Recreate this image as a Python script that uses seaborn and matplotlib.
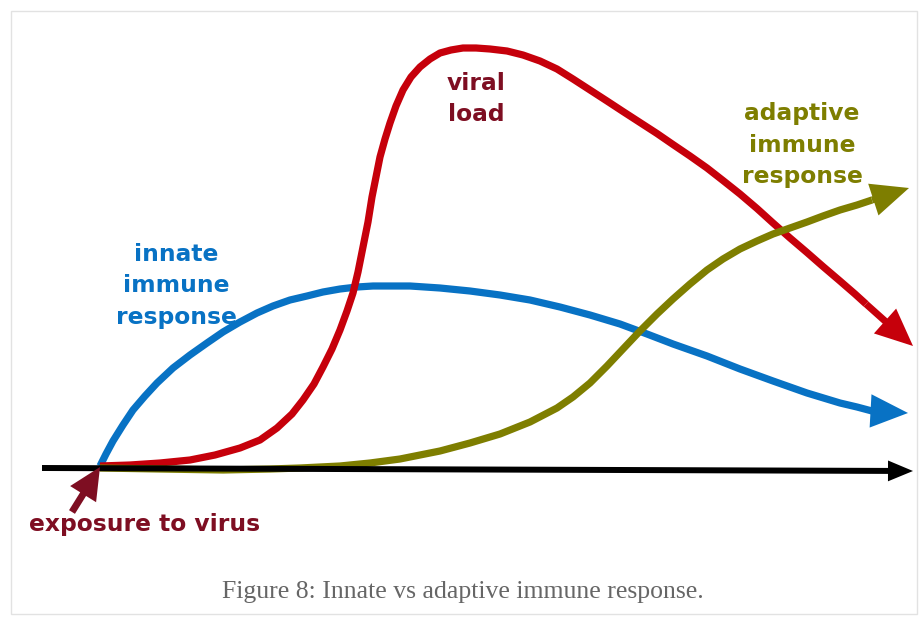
import pandas as pd
import matplotlib
matplotlib.use("Agg")
import matplotlib.pyplot as plt
import seaborn as sns
from matplotlib.patches import Rectangle

# curve points (x, y in image pixels, y grows downward)
innate_x = [100, 106, 113, 123, 133, 145, 157, 173, 190, 207, 223, 240, 257, 273, 290,
            307, 323, 340, 357, 373, 390, 410, 440, 470, 500, 530, 560, 590, 620, 647,
            673, 707, 740, 773, 807, 840, 857, 872]
innate_y = [466, 454, 441, 425, 410, 396, 383, 368, 355, 343, 332, 322, 313, 306, 300,
            296, 292, 289, 287, 286, 286, 286, 288, 291, 295, 300, 307, 315, 324, 334,
            344, 356, 369, 381, 393, 403, 407, 411]
innate_tip = (908, 413)

viral_x = [100, 130, 160, 190, 215, 240, 260, 277, 292, 303, 314, 323, 332, 340, 347,
           353, 358, 363, 368, 372, 376, 380, 385, 390, 396, 403, 411, 420, 430, 440,
           451, 463, 476, 490, 507, 523, 540, 557, 573, 590, 607, 623, 640, 657, 673,
           690, 707, 723, 740, 757, 773, 790, 807, 823, 840, 855, 866]
viral_y = [466, 465, 463, 460, 455, 448, 440, 428, 414, 400, 384, 367, 349, 330, 311,
           293, 272, 247, 222, 197, 177, 157, 139, 123, 106, 90, 77, 67, 59, 53,
           50, 48, 48, 49, 51, 55, 61, 69, 79, 90, 101, 111.5, 122.5, 133.5, 144.5,
           156, 168, 180.5, 194, 208.5, 223, 238, 252.5, 266.5, 281, 294, 304]
viral_tip = (913, 346)

adaptive_x = [100, 160, 223, 270, 300, 340, 370, 400, 440, 470, 500, 530, 557, 573, 590,
              607, 623, 640, 657, 673, 690, 707, 723, 740, 757, 773, 790, 807, 823, 840,
              857, 872]
adaptive_y = [468, 469, 470, 469, 468, 466, 463, 459, 451, 443, 434, 422, 408, 397, 383,
              366, 349, 331, 314, 299, 284, 270, 259, 249, 241, 234, 228, 222, 216, 210,
              205, 200]
adaptive_tip = (909, 188)

axis_x = [42, 913]
axis_y = [468, 471]

exposure_from = (72, 512)
exposure_to = (100, 467)

blue = "#0872C4"
red = "#C6000B"
olive = "#7E7E00"
maroon = "#7E0E22"

curves = pd.concat([
    pd.DataFrame({"x": innate_x, "y": innate_y, "curve": "innate"}),
    pd.DataFrame({"x": viral_x, "y": viral_y, "curve": "viral"}),
    pd.DataFrame({"x": adaptive_x, "y": adaptive_y, "curve": "adaptive"}),
])
palette = {"innate": blue, "viral": red, "adaptive": olive}
tips = {"innate": innate_tip, "viral": viral_tip, "adaptive": adaptive_tip}

sns.set_style("white")
fig = plt.figure(figsize=(9.22, 6.19), dpi=100)
ax = fig.add_axes([0, 0, 1, 1])
ax.set_xlim(0, 922)
ax.set_ylim(619, 0)
ax.axis("off")

# baseline arrow
ax.annotate("", xy=(axis_x[1], axis_y[1]), xytext=(axis_x[0], axis_y[0]),
            arrowprops=dict(width=4.3, headwidth=15, headlength=18, shrink=0,
                            color="black", lw=0))

sns.lineplot(data=curves, x="x", y="y", hue="curve", palette=palette, sort=False,
             estimator=None, lw=5.2, legend=False, ax=ax,
             solid_capstyle="butt", solid_joinstyle="round")

for name, tip in tips.items():
    sub = curves[curves["curve"] == name]
    ax.annotate("", xy=tip, xytext=(sub["x"].iloc[-1], sub["y"].iloc[-1]),
                arrowprops=dict(width=5, headwidth=24, headlength=27, shrink=0,
                                color=palette[name], lw=0))

ax.annotate("", xy=exposure_to, xytext=exposure_from,
            arrowprops=dict(width=5, headwidth=22, headlength=23, shrink=0,
                            color=maroon, lw=0))

lbl = dict(fontsize=16.8, fontweight="bold", ha="center", va="center",
           family="DejaVu Sans", linespacing=1.45)
ax.text(476, 99, "viral\nload", color=maroon, **lbl)
ax.text(176, 286, "innate\nimmune\nresponse", color=blue, **lbl)
ax.text(802, 145, "adaptive\nimmune\nresponse", color=olive, **lbl)
ax.text(145, 524, "exposure to virus", color=maroon, **lbl)

ax.add_patch(Rectangle((11, 11), 906, 603, fill=False, ec="#e2e2e2", lw=1))

fig.text(463 / 922, 1 - 592 / 619, "Figure 8: Innate vs adaptive immune response.",
         ha="center", va="center", fontsize=18.5, color="#666666",
         family="Liberation Serif")

fig.savefig("out.png", dpi=100, facecolor="white")
